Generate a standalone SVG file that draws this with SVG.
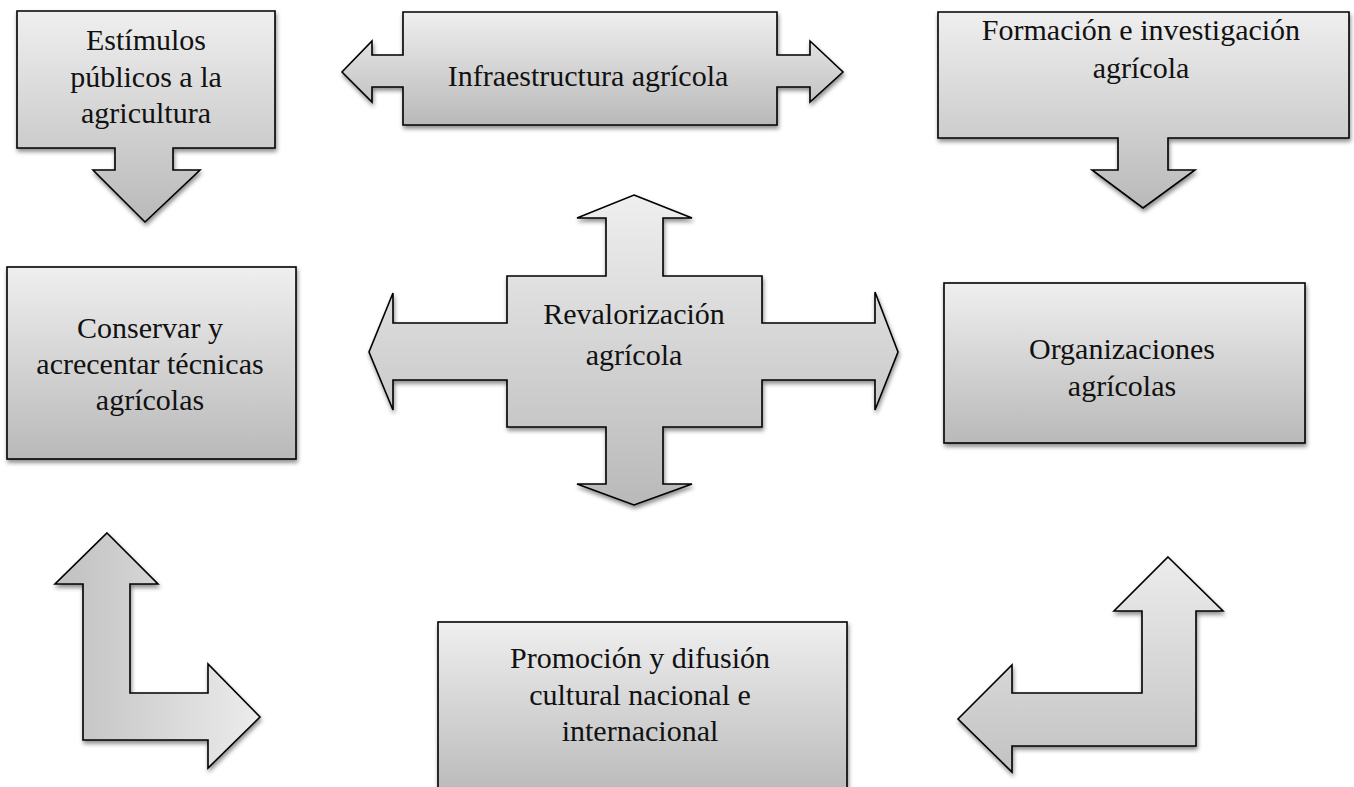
<svg xmlns="http://www.w3.org/2000/svg" width="1354" height="787" viewBox="0 0 1354 787">
<defs>
<linearGradient id="gv" x1="0" y1="0" x2="0" y2="1">
<stop offset="0" stop-color="#efefef"/>
<stop offset="1" stop-color="#b9b9b9"/>
</linearGradient>
<linearGradient id="gh" x1="0" y1="0" x2="1" y2="0">
<stop offset="0" stop-color="#c0c0c0"/>
<stop offset="1" stop-color="#ececec"/>
</linearGradient>
<linearGradient id="gvL" x1="0" y1="0" x2="0" y2="1">
<stop offset="0" stop-color="#ececec"/>
<stop offset="1" stop-color="#c2c2c2"/>
</linearGradient>
<filter id="sh" x="-10%" y="-10%" width="120%" height="125%">
<feDropShadow dx="1" dy="3" stdDeviation="2.2" flood-color="#000" flood-opacity="0.45"/>
</filter>
</defs>
<style>
.s{stroke:#000;stroke-width:1.6;stroke-linejoin:miter;filter:url(#sh)}
.fv{fill:url(#gv)}
.t{font-family:"Liberation Serif","Times New Roman",serif;font-size:30px;fill:#111;text-anchor:middle}
</style>
<rect width="1354" height="787" fill="#fff"/>

<g id="estimulos">
<path class="s fv" d="M17,11 H275 V148 H173 V170 H200 L145,222 L93,170 H115 V148 H17 Z"/>
<text class="t" x="146" y="50">Estímulos</text>
<text class="t" x="146" y="87">públicos a la</text>
<text class="t" x="146" y="123">agricultura</text>
</g>

<g id="infraestructura">
<path class="s fv" d="M403,12 H777 V55 H810 V41 L843,72 L810,102 V87 H777 V125 H403 V87 H372 V102 L342,72 L372,41 V55 H403 Z"/>
<text class="t" x="588" y="86">Infraestructura agrícola</text>
</g>

<g id="formacion">
<path class="s fv" d="M938,12 H1349 V138 H1168 V170 H1195 L1143,208 L1092,170 H1118 V138 H938 Z"/>
<text class="t" x="1141" y="40">Formación e investigación</text>
<text class="t" x="1141" y="78">agrícola</text>
</g>

<g id="revalorizacion">
<path class="s fv" d="M634,195 L692,218 H663 V276 H762 V323 H875 V292 L898,352 L875,410 V380 H762 V427 H663 V484 H692 L634,505 L577,484 H606 V427 H507 V380 H393 V410 L369,352 L393,293 V323 H507 V276 H606 V218 H577 Z"/>
<text class="t" x="634" y="324">Revalorización</text>
<text class="t" x="634" y="365">agrícola</text>
</g>

<g id="conservar">
<rect class="s fv" x="7" y="267" width="289" height="192"/>
<text class="t" x="150" y="338">Conservar y</text>
<text class="t" x="150" y="374">acrecentar técnicas</text>
<text class="t" x="150" y="410">agrícolas</text>
</g>

<g id="organizaciones">
<rect class="s fv" x="944" y="283" width="361" height="160"/>
<text class="t" x="1122" y="359">Organizaciones</text>
<text class="t" x="1122" y="396">agrícolas</text>
</g>

<g id="promocion">
<rect class="s fv" x="438" y="622" width="409" height="175"/>
<text class="t" x="640" y="668">Promoción y difusión</text>
<text class="t" x="640" y="705">cultural nacional e</text>
<text class="t" x="640" y="741">internacional</text>
</g>

<g id="connectors">
<path class="s" fill="url(#gh)" d="M107,533 L158,584 H130 V693 H208 V664 L260,717 L208,768 V740 H83 V584 H55 Z"/>
<path class="s" fill="url(#gvL)" d="M1168,557 L1223,611 H1196 V746 H1012 V772 L958,719 L1012,665 V693 H1142 V611 H1114 Z"/>
</g>
</svg>
